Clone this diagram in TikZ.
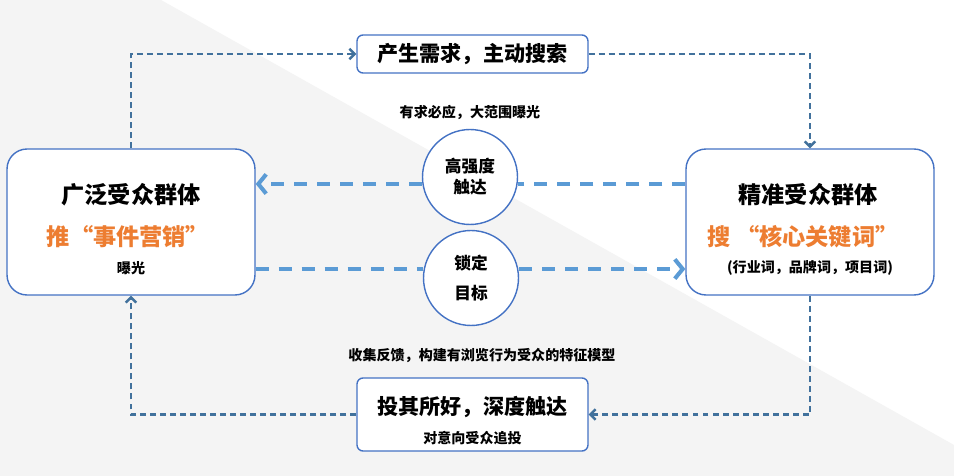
\documentclass[tikz,border=0pt]{standalone}
\usepackage{fontspec}
\setmainfont{Noto Sans CJK SC}
\usetikzlibrary{arrows.meta}
\definecolor{Backdrop}{HTML}{F4F4F4}
\definecolor{Frame}{HTML}{4472C4}
\definecolor{Steel}{HTML}{41719C}
\definecolor{Sky}{HTML}{5B9BD5}
\definecolor{Tangerine}{HTML}{ED7D31}
\tikzset{
  group/.style={
    rounded corners=0.4cm, draw=Frame, line width=0.8pt, fill=white,
    minimum width=4.96cm, minimum height=2.92cm
  },
  banner/.style={
    rounded corners=0.12cm, draw=Frame, line width=0.8pt, fill=white,
    minimum width=4.62cm, minimum height=0.76cm, inner sep=0pt,
    font=\fontsize{12}{14}\selectfont\bfseries
  },
  hub/.style={
    circle, draw=Frame, line width=0.8pt, fill=white,
    minimum size=1.9cm, inner sep=0pt, align=center
  },
  headline/.style={font=\fontsize{13.2}{15}\selectfont\bfseries},
  slogan/.style={font=\fontsize{13.2}{15}\selectfont\bfseries, text=Tangerine},
  caption/.style={font=\fontsize{8}{10}\selectfont\bfseries},
  loop/.style={-{Straight Barb[length=3pt,width=6pt]}, line width=1.35pt,
    draw=Steel, dash pattern=on 3.4pt off 2.3pt},
  beam/.style={line width=2.3pt, draw=Sky, dash pattern=on 7.4pt off 5.7pt},
  beamarrow/.style={beam, -{Straight Barb[length=4.5pt,width=11pt]}}
}

\begin{document}
\begin{tikzpicture}[x=0.02cm, y=-0.02cm]
  \useasboundingbox (0,0) rectangle (954,476);
  % background split
  \fill[white] (0,0) rectangle (954,476);
  \fill[Backdrop] (0,0) -- (161,0) -- (954,445) -- (954,476) -- (0,476) -- cycle;

  % boxes
  \node[group] (wide) at (131,222) {};
  \node[group] (exact) at (810,222) {};
  \node[banner] (demand) at (472.5,54) {产生需求，主动搜索};
  \node[banner, minimum height=1.46cm] (reach) at (472.5,414.5) {};
  \node[hub, font=\fontsize{9.5}{12}\selectfont\bfseries] (intense) at (470,177) {高强度\\触达};
  \node[hub, font=\fontsize{9.5}{17}\selectfont\bfseries] (lock) at (471,278) {锁定\\目标};

  % texts
  \node[headline] (wideTitle) at (131,195) {广泛受众群体};
  \node[slogan] (wideSlogan) at (128,237) {推“事件营销”};
  \node[caption] (wideNote) at (131,268) {曝光};
  \node[headline] (exactTitle) at (808,195) {精准受众群体};
  \node[slogan] (exactSlogan) at (803,237) {搜 “核心关键词”};
  \node[caption] (exactNote) at (810,268) {(行业词，品牌词，项目词)};
  \node[font=\fontsize{12}{14}\selectfont\bfseries] (reachTitle) at (472.5,407) {投其所好，深度触达};
  \node[caption] (reachNote) at (472.5,438) {对意向受众追投};
  \node[caption] (topNote) at (470,112) {有求必应，大范围曝光};
  \node[caption] (bottomNote) at (482,355) {收集反馈，构建有浏览行为受众的特征模型};

  % outer loop
  \draw[loop] (wide.north) |- (demand.west);
  \draw[loop] (demand.east) -| (exact.north);
  \draw[loop] (exact.south) |- (reach.east);
  \draw[loop] (reach.west) -| (wide.south);

  % middle beams
  \coordinate (upper) at (0,184);
  \coordinate (lower) at (0,269);
  \draw[beam] (exact.west |- upper) -- (intense.east |- upper);
  \draw[beamarrow] (intense.west |- upper) -- (wide.east |- upper);
  \draw[beam] (wide.east |- lower) -- (lock.west |- lower);
  \draw[beamarrow] (lock.east |- lower) -- (exact.west |- lower);
\end{tikzpicture}
\end{document}
